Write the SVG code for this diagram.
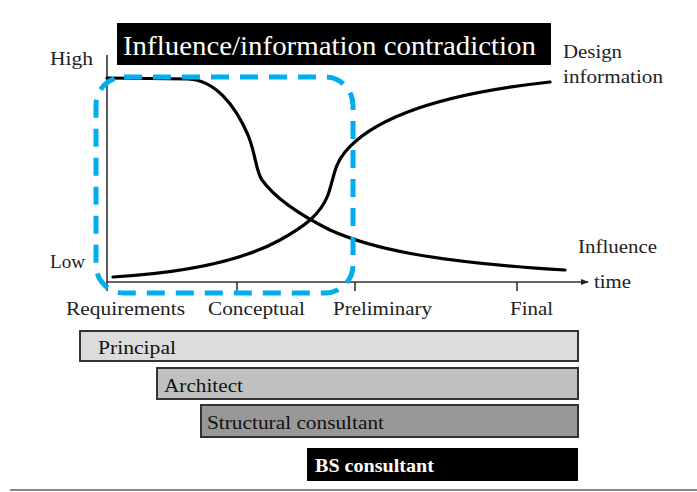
<svg xmlns="http://www.w3.org/2000/svg" width="697" height="492" viewBox="0 0 697 492">
<defs>
<style>
.t{font-family:"Liberation Serif","Times New Roman",serif;fill:#222;font-size:18px;}
.bar{stroke:#333;stroke-width:2;}
.bt{font-family:"Liberation Serif","Times New Roman",serif;font-size:19px;fill:#111;}
.axis{stroke:#333;stroke-width:1.6;fill:none;}
.curve{stroke:#000;stroke-width:3.2;fill:none;stroke-linecap:round;}
</style>
<marker id="arr" viewBox="0 0 10 10" refX="9" refY="5" markerWidth="8" markerHeight="8" markerUnits="userSpaceOnUse" orient="auto">
<path d="M0,1 L10,5 L0,9 z" fill="#222"/>
</marker>
</defs>
<rect width="697" height="492" fill="#fff"/>
<g id="title">
<rect x="117" y="23" width="434" height="42" fill="#000"/>
<text x="123" y="55" font-family="Liberation Serif, Times New Roman, serif" font-size="27" fill="#fff" textLength="413" lengthAdjust="spacingAndGlyphs">Influence/information contradiction</text>
</g>
<g id="axes">
<line class="axis" x1="107" y1="55" x2="107" y2="291"/>
<line class="axis" x1="107" y1="282" x2="588" y2="282" marker-end="url(#arr)"/>
<line class="axis" x1="237" y1="282" x2="237" y2="291"/>
<line class="axis" x1="355" y1="282" x2="355" y2="291"/>
<line class="axis" x1="517" y1="282" x2="517" y2="291"/>
<text class="t" x="50" y="65" textLength="43" lengthAdjust="spacingAndGlyphs">High</text>
<text class="t" x="50" y="268" textLength="35" lengthAdjust="spacingAndGlyphs">Low</text>
<text class="t" x="66" y="315" textLength="119" lengthAdjust="spacingAndGlyphs">Requirements</text>
<text class="t" x="208" y="315" textLength="97" lengthAdjust="spacingAndGlyphs">Conceptual</text>
<text class="t" x="333" y="315" textLength="99" lengthAdjust="spacingAndGlyphs">Preliminary</text>
<text class="t" x="510" y="315" textLength="43" lengthAdjust="spacingAndGlyphs">Final</text>
<text class="t" x="594" y="288" textLength="37" lengthAdjust="spacingAndGlyphs">time</text>
</g>
<g id="connectors">
<path id="influence-curve" class="curve" d="M107,78 L188,79 C215,80 235,105 248,135 C256,155 256,172 262,180 C275,198 300,215 330,230 C370,248 430,262 565,270"/>
<path id="design-curve" class="curve" d="M113,277 C180,273 240,262 280,240 C305,226 320,215 328,195 C334,178 334,165 345,152 C370,122 430,95 550,82"/>
</g>
<g id="curve-labels">
<text class="t" x="563" y="58" textLength="59" lengthAdjust="spacingAndGlyphs">Design</text>
<text class="t" x="563" y="83" textLength="100" lengthAdjust="spacingAndGlyphs">information</text>
<text class="t" x="578" y="253" textLength="79" lengthAdjust="spacingAndGlyphs">Influence</text>
</g>
<g id="highlight">
<rect x="96" y="77" width="257" height="216" rx="28" ry="28" fill="none" stroke="#00aeef" stroke-width="5" stroke-dasharray="18,11"/>
</g>
<g id="principal">
<rect class="bar" x="80" y="331" width="498" height="30" fill="#dcdcdc"/>
<text class="bt" x="98" y="354" textLength="78" lengthAdjust="spacingAndGlyphs">Principal</text>
</g>
<g id="architect">
<rect class="bar" x="157" y="368" width="421" height="31" fill="#c0c0c0"/>
<text class="bt" x="164" y="392" textLength="79" lengthAdjust="spacingAndGlyphs">Architect</text>
</g>
<g id="structural">
<rect class="bar" x="201" y="405" width="377" height="32" fill="#989898"/>
<text class="bt" x="207" y="429" textLength="177" lengthAdjust="spacingAndGlyphs">Structural consultant</text>
</g>
<g id="bs">
<rect x="307" y="448" width="271" height="33" fill="#000"/>
<text class="bt" x="315" y="472" style="fill:#fff;font-weight:bold" textLength="119" lengthAdjust="spacingAndGlyphs">BS consultant</text>
</g>
<line x1="10" y1="490" x2="697" y2="490" stroke="#888" stroke-width="2"/>
</svg>
